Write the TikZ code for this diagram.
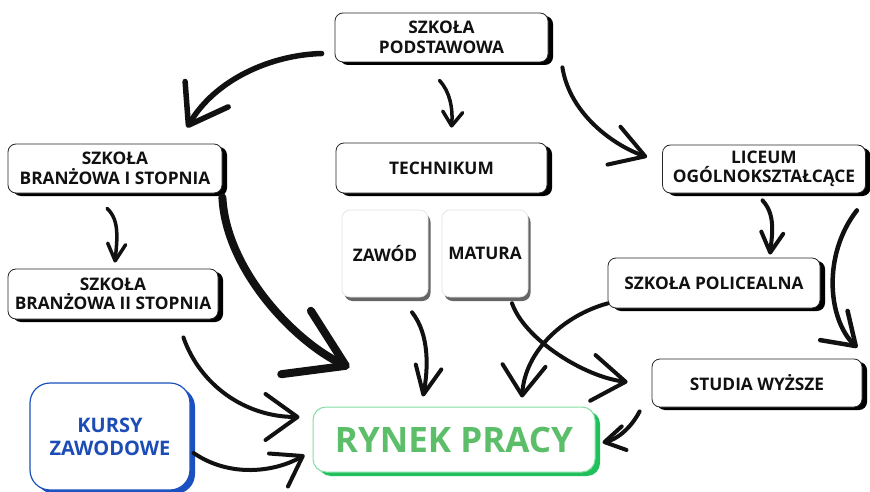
\documentclass[tikz,border=0pt]{standalone}
\usepackage{fontspec}
\setmainfont{Open Sans}
\usetikzlibrary{arrows.meta,shadows}
\definecolor{rgreen}{RGB}{92,190,104}
\definecolor{rgreenline}{RGB}{130,222,160}
\definecolor{rgreenshadow}{RGB}{32,192,92}
\definecolor{kblue}{RGB}{28,76,182}
\definecolor{kblueline}{RGB}{26,80,192}
\definecolor{ink}{RGB}{17,17,17}
\begin{document}
\begin{tikzpicture}[x=1pt,y=-1pt,
  box/.style={draw=black!85, line width=0.8pt, fill=white, rounded corners=8pt,
    align=center, inner sep=0pt, text=ink,
    font=\fontsize{17.3}{19.5}\selectfont\bfseries,
    drop shadow={shadow xshift=5pt,shadow yshift=-3pt,fill=black,opacity=1}},
  sqbox/.style={draw=black!12, line width=0.6pt, fill=white, rounded corners=8pt,
    align=center, inner sep=0pt, text=ink,
    minimum width=86pt, minimum height=87pt,
    font=\fontsize{17.3}{19.5}\selectfont\bfseries,
    drop shadow={shadow xshift=2.5pt,shadow yshift=-4pt,fill=black,opacity=.6}},
  conn/.style={draw=ink, line width=4pt, line cap=round, line join=round},
]
\useasboundingbox (0,0) rectangle (870,492);

% boxes
\node[box, minimum width=213pt, minimum height=49pt] (pod) at (441.5,37.5) {SZKOŁA\\PODSTAWOWA};
\node[box, minimum width=214pt, minimum height=49pt] (bI) at (115,168.5) {SZKOŁA\\BRANŻOWA I STOPNIA};
\node[box, minimum width=210pt, minimum height=50pt] (bII) at (113,294) {SZKOŁA\\BRANŻOWA II STOPNIA};
\node[box, minimum width=211pt, minimum height=50pt] (tech) at (441.5,168) {TECHNIKUM};
\node[sqbox] (zaw) at (385,253.5) {ZAWÓD};
\node[sqbox] (mat) at (485,253.5) {MATURA};
\node[box, minimum width=203pt, minimum height=48pt] (lic) at (764,169) {LICEUM\\OGÓLNOKSZTAŁCĄCE};
\node[box, minimum width=212pt, minimum height=50pt] (pol) at (714,283) {SZKOŁA POLICEALNA};
\node[box, minimum width=210pt, minimum height=48pt] (stu) at (757,383) {STUDIA WYŻSZE};
\node[draw=rgreenline, line width=1pt, fill=white, rounded corners=13pt,
  minimum width=282pt, minimum height=65pt, inner sep=0pt, text=rgreen,
  font=\fontsize{35}{40}\selectfont\bfseries,
  drop shadow={shadow xshift=5pt,shadow yshift=-4pt,fill=rgreenshadow,opacity=1}]
  (ryn) at (454,439.5) {RYNEK PRACY};
\node[draw=kblueline, line width=1.2pt, fill=white, rounded corners=20pt,
  minimum width=160pt, minimum height=107pt, inner sep=0pt, align=center, text=kblue,
  font=\fontsize{20}{23}\selectfont\bfseries,
  drop shadow={shadow xshift=5pt,shadow yshift=-4pt,fill=kblueline,opacity=1}]
  (kur) at (110,436.5) {KURSY\\ZAWODOWE};

% connectors
\draw[conn, line width=5.5pt, -{Straight Barb[length=36pt,width=50pt,round]}]
  ([shift={(-13,16)}]pod.west) .. controls (270,55) and (215,80) .. ([shift={(72,-16)}]bI.north);
\draw[conn, line width=3.5pt, -{Straight Barb[length=14pt,width=20pt,round]}]
  ([shift={(-2,18)}]pod.south) .. controls (450,92) and (453,108) .. ([shift={(10,-15)}]tech.north);
\draw[conn, -{Straight Barb[length=33pt,width=40pt,round]}]
  ([shift={(14,5)}]pod.south east) .. controls (570,115) and (615,146) .. ([shift={(-15,-12)}]lic.west);
\draw[conn, line width=3.5pt, -{Straight Barb[length=17pt,width=18pt,round]}]
  ([shift={(-8,15)}]bI.south) .. controls (120,220) and (117,240) .. ([shift={(2,-6)}]bII.north);
\draw[conn, line width=8pt, -{Straight Barb[length=55pt,width=70pt,round]}]
  ([shift={(0,4)}]bI.south east) .. controls (226,270) and (295,342) .. ([shift={(37,-39)}]ryn.north west);
\draw[conn, -{Straight Barb[length=32pt,width=46pt,round]}]
  ([shift={(-35,18)}]bII.south east) .. controls (200,385) and (245,417) .. ([shift={(-13,-22.5)}]ryn.west);
\draw[conn, -{Straight Barb[length=28pt,width=38pt,round]}]
  ([shift={(3,16.5)}]kur.east) .. controls (230,478) and (275,472) .. ([shift={(-8,15.5)}]ryn.west);
\draw[conn, -{Straight Barb[length=28pt,width=26pt,round]}]
  ([shift={(27,15)}]zaw.south) .. controls (430,335) and (428,370) .. ([shift={(-31,-10)}]ryn.north);
\draw[conn, -{Straight Barb[length=33pt,width=46pt,round]}]
  ([shift={(27,6)}]mat.south) .. controls (525,340) and (585,377) .. ([shift={(-24,-1)}]stu.west);
\draw[conn, -{Straight Barb[length=30pt,width=43pt,round]}]
  ([shift={(0,-5)}]pol.south west) .. controls (565,315) and (525,350) .. ([shift={(68,-9)}]ryn.north);
\draw[conn, -{Straight Barb[length=20pt,width=24pt,round]}]
  ([shift={(-12,4)}]stu.south west) .. controls (630,430) and (615,440) .. ([shift={(7,3)}]ryn.east);
\draw[conn, -{Straight Barb[length=20pt,width=22pt,round]}]
  ([shift={(-1.5,7)}]lic.south) .. controls (776,215) and (772,235) .. ([shift={(56,-3)}]pol.north);
\draw[conn, line width=4.5pt, -{Straight Barb[length=30pt,width=40pt,round]}]
  ([shift={(-9,17)}]lic.south east) .. controls (822,255) and (828,320) .. ([shift={(-5,-11)}]stu.north east);
\end{tikzpicture}
\end{document}
